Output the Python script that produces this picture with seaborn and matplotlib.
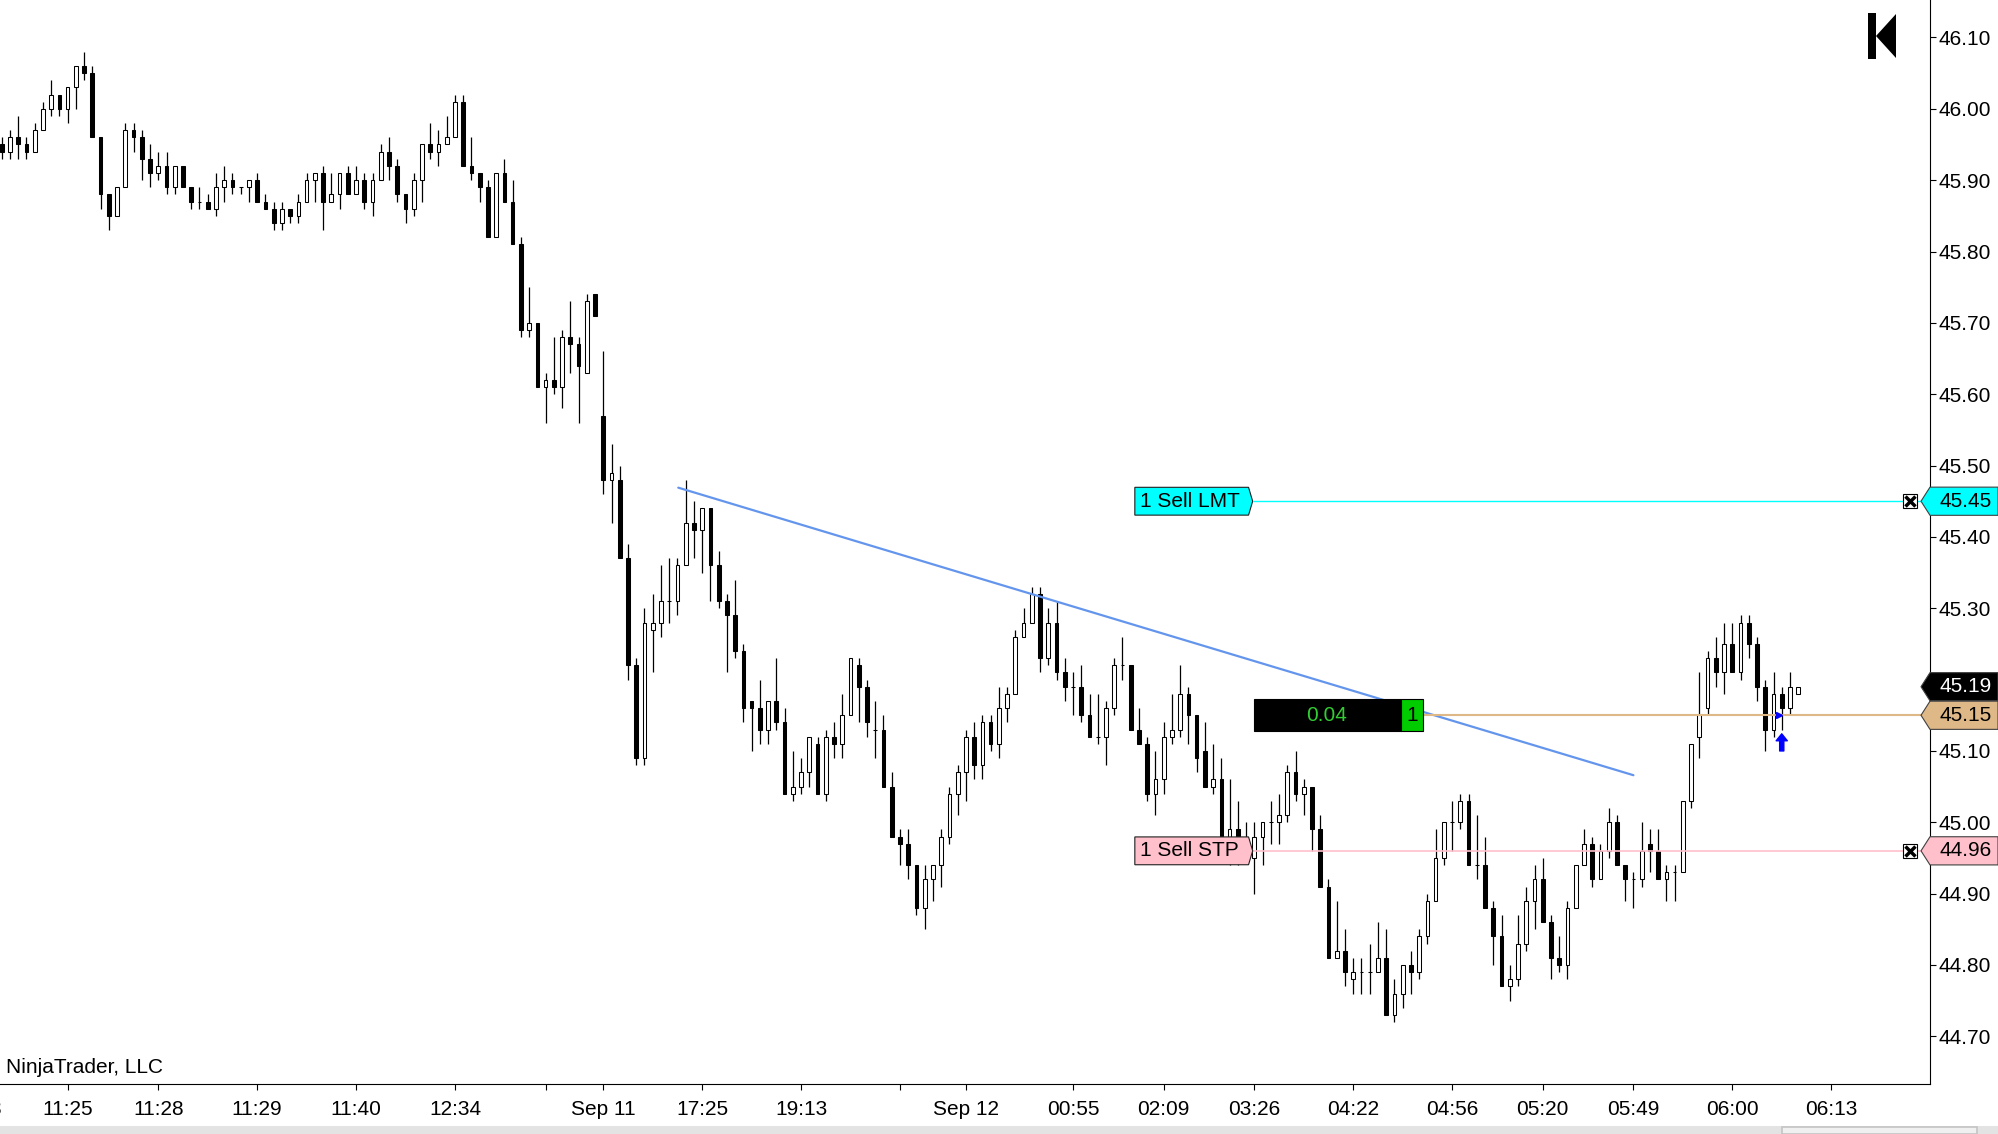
import numpy as np
import pandas as pd
import matplotlib
matplotlib.use("Agg")
import matplotlib.pyplot as plt
from matplotlib.patches import Polygon, Rectangle
import seaborn as sns

# ---------------- data ----------------
opens = [45.95,45.94,45.96,45.95,45.94,45.97,46.00,46.02,46.00,46.03,
         46.06,46.05,45.96,45.88,45.85,45.89,45.97,45.96,45.93,45.91,
         45.92,45.89,45.92,45.89,45.87,45.87,45.86,45.89,45.90,45.89,
         45.89,45.90,45.87,45.86,45.84,45.86,45.85,45.87,45.90,45.91,
         45.87,45.88,45.91,45.88,45.90,45.87,45.90,45.94,45.92,45.88,
         45.86,45.90,45.95,45.94,45.95,45.96,46.01,45.92,45.91,45.89,
         45.82,45.91,45.87,45.81,45.69,45.70,45.61,45.62,45.61,45.68,
         45.67,45.63,45.74,45.57,45.48,45.48,45.37,45.22,45.09,45.27,
         45.28,45.31,45.31,45.36,45.42,45.41,45.44,45.36,45.31,45.29,
         45.24,45.17,45.16,45.13,45.17,45.14,45.04,45.05,45.07,45.11,
         45.04,45.12,45.11,45.15,45.22,45.19,45.13,45.13,45.05,44.98,
         44.97,44.94,44.88,44.92,44.94,44.98,45.04,45.07,45.12,45.08,
         45.14,45.11,45.16,45.18,45.26,45.28,45.32,45.23,45.28,45.21,
         45.19,45.19,45.15,45.12,45.12,45.16,45.22,45.22,45.13,45.11,
         45.04,45.06,45.12,45.13,45.18,45.15,45.10,45.05,45.06,44.96,
         44.99,44.97,44.95,44.98,45.00,45.00,45.01,45.07,45.04,45.05,
         44.99,44.91,44.81,44.82,44.78,44.79,44.79,44.79,44.81,44.73,
         44.76,44.80,44.79,44.84,44.89,44.95,45.00,45.00,45.03,44.94,
         44.94,44.88,44.84,44.77,44.78,44.83,44.89,44.92,44.86,44.81,
         44.80,44.88,44.94,44.97,44.92,44.96,45.00,44.94,44.92,44.92,
         44.97,44.96,44.92,44.93,44.93,45.03,45.12,45.16,45.23,45.21,
         45.25,45.21,45.28,45.25,45.19,45.13,45.18,45.16,45.18]
highs = [45.96,45.97,45.99,45.96,45.98,46.01,46.04,46.02,46.03,46.06,
         46.08,46.06,45.96,45.88,45.89,45.98,45.98,45.97,45.95,45.94,
         45.94,45.92,45.92,45.89,45.89,45.88,45.91,45.92,45.91,45.89,
         45.90,45.91,45.88,45.87,45.87,45.86,45.88,45.91,45.91,45.92,
         45.91,45.91,45.92,45.92,45.91,45.91,45.95,45.96,45.93,45.88,
         45.91,45.95,45.98,45.97,45.99,46.02,46.02,45.96,45.91,45.90,
         45.91,45.93,45.90,45.82,45.75,45.70,45.63,45.68,45.69,45.73,
         45.68,45.74,45.74,45.66,45.53,45.50,45.39,45.23,45.30,45.32,
         45.36,45.37,45.37,45.48,45.45,45.44,45.44,45.38,45.32,45.34,
         45.25,45.17,45.20,45.17,45.23,45.16,45.10,45.09,45.12,45.12,
         45.13,45.14,45.18,45.23,45.23,45.20,45.17,45.15,45.07,44.99,
         44.99,44.94,44.94,44.94,44.99,45.05,45.08,45.13,45.14,45.15,
         45.15,45.19,45.19,45.27,45.30,45.33,45.33,45.30,45.31,45.23,
         45.21,45.22,45.18,45.18,45.17,45.23,45.26,45.22,45.16,45.12,
         45.10,45.14,45.18,45.22,45.19,45.15,45.14,45.11,45.09,45.06,
         45.03,45.00,45.00,45.00,45.03,45.04,45.08,45.10,45.06,45.05,
         45.01,44.92,44.89,44.85,44.81,44.81,44.83,44.86,44.85,44.78,
         44.80,44.82,44.85,44.90,44.99,45.00,45.03,45.04,45.04,45.01,
         44.98,44.89,44.87,44.80,44.87,44.91,44.94,44.95,44.87,44.84,
         44.89,44.94,44.99,44.98,44.97,45.02,45.01,44.94,44.93,45.00,
         44.99,44.99,44.94,44.94,45.03,45.11,45.21,45.24,45.26,45.28,
         45.28,45.29,45.29,45.26,45.20,45.21,45.19,45.21,45.19]
lows = [45.93,45.93,45.93,45.93,45.94,45.97,45.99,45.99,45.98,46.00,
        46.04,45.96,45.86,45.83,45.85,45.89,45.94,45.90,45.89,45.90,
        45.88,45.88,45.89,45.86,45.86,45.86,45.85,45.87,45.88,45.88,
        45.87,45.87,45.86,45.83,45.83,45.84,45.84,45.87,45.87,45.83,
        45.87,45.86,45.88,45.88,45.86,45.85,45.90,45.90,45.87,45.84,
        45.85,45.87,45.93,45.92,45.95,45.96,45.92,45.90,45.87,45.82,
        45.82,45.87,45.81,45.68,45.68,45.61,45.56,45.60,45.58,45.63,
        45.56,45.63,45.71,45.46,45.42,45.37,45.20,45.08,45.08,45.21,
        45.26,45.28,45.29,45.36,45.37,45.35,45.31,45.30,45.21,45.23,
        45.14,45.10,45.11,45.11,45.13,45.04,45.03,45.04,45.05,45.04,
        45.03,45.09,45.09,45.15,45.14,45.12,45.09,45.05,44.98,44.94,
        44.92,44.87,44.85,44.89,44.91,44.97,45.01,45.03,45.06,45.06,
        45.10,45.09,45.14,45.18,45.26,45.28,45.21,45.22,45.20,45.17,
        45.15,45.14,45.12,45.11,45.08,45.15,45.20,45.13,45.11,45.03,
        45.01,45.04,45.11,45.12,45.11,45.07,45.05,45.04,44.97,44.94,
        44.94,44.95,44.90,44.94,44.97,44.97,45.00,45.03,45.01,44.96,
        44.91,44.81,44.81,44.77,44.76,44.76,44.76,44.79,44.73,44.72,
        44.74,44.76,44.78,44.83,44.89,44.94,44.96,44.99,44.94,44.92,
        44.88,44.80,44.77,44.75,44.77,44.82,44.85,44.86,44.78,44.79,
        44.78,44.88,44.94,44.91,44.92,44.95,44.94,44.89,44.88,44.91,
        44.93,44.92,44.89,44.89,44.93,45.02,45.09,45.15,45.19,45.18,
        45.21,45.20,45.23,45.17,45.10,45.12,45.13,45.15,45.18]
closes = [45.94,45.96,45.95,45.94,45.97,46.00,46.02,46.00,46.03,46.06,
          46.05,45.96,45.88,45.85,45.89,45.97,45.96,45.93,45.91,45.92,
          45.89,45.92,45.89,45.87,45.87,45.86,45.89,45.90,45.89,45.89,
          45.90,45.87,45.86,45.84,45.86,45.85,45.87,45.90,45.91,45.87,
          45.88,45.91,45.88,45.90,45.87,45.90,45.94,45.92,45.88,45.86,
          45.90,45.95,45.94,45.95,45.96,46.01,45.92,45.91,45.89,45.82,
          45.91,45.87,45.81,45.69,45.70,45.61,45.62,45.61,45.68,45.67,
          45.64,45.73,45.71,45.48,45.49,45.37,45.22,45.09,45.28,45.28,
          45.31,45.31,45.36,45.42,45.41,45.44,45.36,45.31,45.29,45.24,
          45.16,45.16,45.13,45.17,45.14,45.04,45.05,45.07,45.12,45.04,
          45.12,45.11,45.15,45.23,45.19,45.14,45.13,45.05,44.98,44.97,
          44.94,44.88,44.92,44.94,44.98,45.04,45.07,45.12,45.08,45.14,
          45.11,45.16,45.18,45.26,45.28,45.32,45.23,45.28,45.21,45.19,
          45.19,45.15,45.12,45.12,45.16,45.22,45.22,45.13,45.11,45.04,
          45.06,45.12,45.13,45.18,45.15,45.09,45.05,45.06,44.97,44.99,
          44.97,44.98,44.98,45.00,45.00,45.01,45.07,45.04,45.05,44.99,
          44.91,44.81,44.82,44.79,44.79,44.79,44.79,44.81,44.73,44.76,
          44.80,44.79,44.84,44.89,44.95,45.00,45.00,45.03,44.94,44.94,
          44.88,44.84,44.77,44.78,44.83,44.89,44.92,44.86,44.81,44.80,
          44.88,44.94,44.97,44.92,44.96,45.00,44.94,44.92,44.92,44.96,
          44.96,44.92,44.93,44.93,45.03,45.11,45.15,45.23,45.21,45.25,
          45.21,45.28,45.25,45.19,45.13,45.18,45.16,45.19,45.19]

xtick_pos = [8, 19, 31, 43, 55, 66, 73, 85, 97, 109, 117,
             130, 141, 152, 164, 176, 187, 198, 210, 222]
xtick_labels = ["11:25", "11:28", "11:29", "11:40", "12:34", "", "Sep 11",
                "17:25", "19:13", "", "Sep 12", "00:55", "02:09", "03:26",
                "04:22", "04:56", "05:20", "05:49", "06:00", "06:13"]
partial_tick_pos = -3
partial_tick_label = "11:23"
ytick_vals = [44.70, 44.80, 44.90, 45.00, 45.10, 45.20, 45.30, 45.40,
              45.50, 45.60, 45.70, 45.80, 45.90, 46.00, 46.10]
hidden_ytick = 45.20   # covered by the last-price marker in the reference

trend_x = [82.1, 198.0]
trend_y = [45.469, 45.066]

lmt_price = 45.45
stp_price = 44.96
position_price = 45.15
last_price = 45.19
pnl_text = "0.04"
position_qty = "1"
exec_bar = 216
exec_price = 45.15

# ---------------- figure ----------------
sns.set_theme(style="white")
plt.rcParams['font.family'] = ['Liberation Sans', 'DejaVu Sans']
FS = 15

W, H = 1998, 1134
fig = plt.figure(figsize=(W / 100, H / 100), dpi=100)
fig.patch.set_facecolor("white")
ax = fig.add_axes([0, 50 / H, 1930 / W, 1084 / H])
ax.set_facecolor("white")

df = pd.DataFrame({"o": opens, "h": highs, "l": lows, "c": closes})
df["x"] = np.arange(len(df))
df["up"] = df["c"] >= df["o"]
df["bottom"] = df[["o", "c"]].min(axis=1)
df["height"] = (df["c"] - df["o"]).abs()

# wicks
ax.vlines(df["x"], df["l"], df["h"], color="black", linewidth=0.9, zorder=2)
# bodies
ax.bar(df["x"], df["height"], bottom=df["bottom"], width=0.45,
       color=np.where(df["up"], "white", "black"), edgecolor="black",
       linewidth=0.75, zorder=3)

XMAX = 233.99
ax.set_xlim(-0.206, XMAX)
ax.set_ylim(44.6332, 46.1525)

# trend line
sns.lineplot(x=trend_x, y=trend_y, ax=ax, color="#6495ED", linewidth=1.6,
             zorder=4)

# order / position lines
x_ord = 151.8
ax.hlines(lmt_price, x_ord, XMAX, color="#00FFFF", linewidth=1.0, zorder=5)
ax.hlines(stp_price, x_ord, XMAX, color="#FFC0CB", linewidth=1.2, zorder=5)
ax.hlines(position_price, 172.47, XMAX, color="#DEB887", linewidth=1.5, zorder=5)


def order_label(price, fc, text):
    x0, x1, tip = 137.5, 151.8, 0.5
    h = 0.039
    pts = [(x0, price - h / 2), (x1 - tip, price - h / 2), (x1, price),
           (x1 - tip, price + h / 2), (x0, price + h / 2)]
    ax.add_patch(Polygon(pts, closed=True, facecolor=fc, edgecolor="#202020",
                         linewidth=0.8, zorder=6))
    ax.text(x0 + 0.65, price, text, ha="left", va="center", fontsize=FS,
            color="black", zorder=7)


order_label(lmt_price, "#00FFFF", "1 Sell LMT")
order_label(stp_price, "#FFC0CB", "1 Sell STP")

# position box
ph = 0.0448
ax.add_patch(Rectangle((151.96, position_price - ph / 2), 169.8 - 151.96, ph,
                       facecolor="black", edgecolor="black", linewidth=0.8,
                       zorder=6))
ax.add_patch(Rectangle((169.8, position_price - ph / 2), 172.47 - 169.8, ph,
                       facecolor="#00CC00", edgecolor="black", linewidth=0.8,
                       zorder=6))
ax.text(160.8, position_price, pnl_text, ha="center", va="center", fontsize=FS,
        color="#32CD32", zorder=7)
ax.text(171.13, position_price, position_qty, ha="center", va="center",
        fontsize=FS, color="black", zorder=7)

# cancel boxes
for p in (lmt_price, stp_price):
    ax.plot([231.6], [p], marker="s", ms=10.5, mfc="white", mec="black",
            mew=0.8, zorder=8, clip_on=False)
    ax.plot([231.6], [p], marker="x", ms=7, mew=2.5, color="black",
            zorder=9, clip_on=False)

# execution markers
ax.plot([exec_bar - 0.3], [exec_price], marker=">", ms=5, color="blue",
        zorder=8)
ax.annotate("", xy=(exec_bar, 45.124), xytext=(exec_bar, 45.100),
            arrowprops=dict(facecolor="blue", edgecolor="blue", width=3.0,
                            headwidth=8, headlength=5, shrink=0), zorder=8)

# right-axis price markers
ytr = ax.get_yaxis_transform()


def xa(px):
    return px / 1930.0


def price_marker(price, fc, tc):
    h = 0.0395
    pts = [(xa(1921), price), (xa(1930), price + h / 2), (xa(1998), price + h / 2),
           (xa(1998), price - h / 2), (xa(1930), price - h / 2)]
    ax.add_patch(Polygon(pts, closed=True, transform=ytr, facecolor=fc,
                         edgecolor="#404040", linewidth=0.8, zorder=10,
                         clip_on=False))
    ax.text(xa(1939), price, f"{price:.2f}", transform=ytr, ha="left",
            va="center", fontsize=FS, color=tc, zorder=11, clip_on=False)


price_marker(lmt_price, "#00FFFF", "black")
price_marker(last_price, "black", "white")
price_marker(position_price, "#DEB887", "black")
price_marker(stp_price, "#FFC0CB", "black")

# axes styling
for side in ("top", "left"):
    ax.spines[side].set_visible(False)
for side in ("right", "bottom"):
    ax.spines[side].set_visible(True)
    ax.spines[side].set_color("black")
    ax.spines[side].set_linewidth(0.8)
ax.yaxis.tick_right()
ax.set_yticks(ytick_vals)
ax.set_yticklabels(["" if abs(v - hidden_ytick) < 1e-9 else f"{v:.2f}"
                    for v in ytick_vals])
ax.set_xticks(xtick_pos)
ax.set_xticklabels(xtick_labels)
ax.tick_params(axis="y", which="both", left=False, right=True, direction="out",
               length=4, width=0.8, pad=2, labelsize=FS, colors="black")
ax.tick_params(axis="x", which="both", bottom=True, direction="out", length=4,
               width=0.8, pad=7.5, labelsize=FS, colors="black")
ax.grid(False)
ax.annotate(partial_tick_label, xy=(partial_tick_pos, 0),
            xycoords=("data", "axes fraction"), xytext=(0, -11.5),
            textcoords="offset points", ha="center", va="top", fontsize=FS,
            color="black", annotation_clip=False)

# figure-level decorations (pixel helper, y from top)


def fp(x, y):
    return (x / W, 1 - y / H)


fig.text(6 / W, 1 - 1073 / H, "NinjaTrader, LLC", ha="left", va="baseline",
         fontsize=FS, color="black")

# logo
fig.add_artist(Polygon([fp(1868, 13), fp(1876, 13), fp(1876, 59), fp(1868, 59)],
                       closed=True, transform=fig.transFigure, facecolor="black",
                       edgecolor="none"))
fig.add_artist(Polygon([fp(1876, 36), fp(1896, 14), fp(1896, 58)], closed=True,
                       transform=fig.transFigure, facecolor="black",
                       edgecolor="none"))

# bottom strip
fig.add_artist(Rectangle(fp(0, 1134), 1.0, 8 / H, transform=fig.transFigure,
                         facecolor="#E3E3E3", edgecolor="none"))
fig.add_artist(Rectangle(fp(1782, 1134), 195 / W, 7 / H, transform=fig.transFigure,
                         facecolor="#F0F0F0", edgecolor="#C4C4C4", linewidth=1.2))

fig.savefig("out.png", dpi=100, facecolor="white")
